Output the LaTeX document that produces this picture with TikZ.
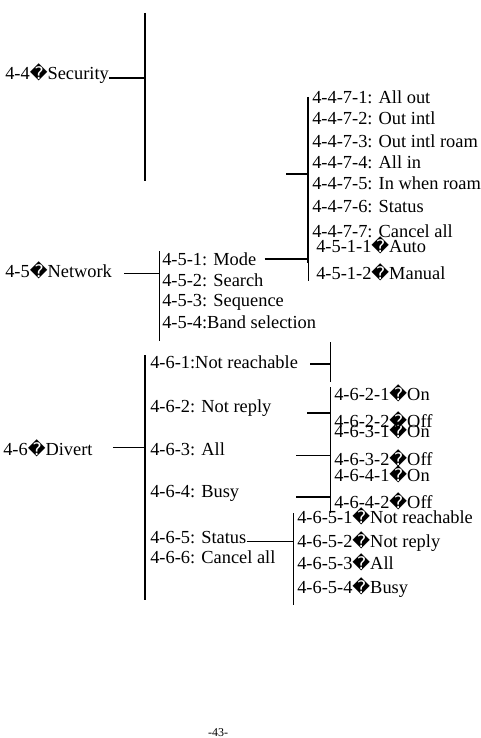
\documentclass[tikz,border=0pt]{standalone}
\usepackage{fontspec}
\setmainfont{Liberation Serif}
\newfontfamily\repfont{DejaVu Sans}
\newcommand{\rep}{{\repfont\fontsize{13}{13}\selectfont\symbol{"FFFD}}}
\usetikzlibrary{positioning}

\begin{document}
\begin{tikzpicture}[x=0.75pt, y=-0.75pt,
        item/.style={anchor=base west, inner sep=0pt, font=\fontsize{13.8}{16}\selectfont},
        pageno/.style={anchor=base, inner sep=0pt, font=\fontsize{9}{10}\selectfont},
        thickline/.style={draw, line width=1.5pt},
        thinline/.style={draw, line width=0.75pt}
        ]
        \useasboundingbox (0,0) rectangle (481,738);

        % Nodes
        \node (sec) [item] at (5,80) {4-4\rep Security};
        \node (out1) [item] at (312,104) {4-4-7-1: All out};
        \node (out2) [item] at (312,125) {4-4-7-2: Out intl};
        \node (out3) [item] at (312,147) {4-4-7-3: Out intl roam};
        \node (in1) [item] at (312,168) {4-4-7-4: All in};
        \node (in2) [item] at (312,190) {4-4-7-5: In when roam};
        \node (barstat) [item] at (312,212) {4-4-7-6: Status};
        \node (barcancel) [item] at (312,237) {4-4-7-7: Cancel all};

        \node (net) [item] at (5,277) {4-5\rep Network};
        \node (mode) [item] at (162,265) {4-5-1: Mode};
        \node (search) [item] at (162,286) {4-5-2: Search};
        \node (seq) [item] at (162,306) {4-5-3: Sequence};
        \node (band) [item] at (162,328) {4-5-4:Band selection};
        \node (auto) [item] at (316,252) {4-5-1-1\rep Auto};
        \node (manual) [item] at (316,279) {4-5-1-2\rep Manual};

        \node (div) [item] at (3,455) {4-6\rep Divert};
        \node (notreach) [item] at (150,368) {4-6-1:Not reachable};
        \node (notreply) [item] at (150,412) {4-6-2: Not reply};
        \node (all) [item] at (150,455) {4-6-3: All};
        \node (busy) [item] at (150,497) {4-6-4: Busy};
        \node (divstat) [item] at (150,543) {4-6-5: Status};
        \node (divcancel) [item] at (150,563) {4-6-6: Cancel all};
        \node (replyon) [item] at (334,400) {4-6-2-1\rep On};
        \node (replyoff) [item] at (334,427) {4-6-2-2\rep Off};
        \node (allon) [item] at (334,437) {4-6-3-1\rep On};
        \node (alloff) [item] at (334,465) {4-6-3-2\rep Off};
        \node (busyon) [item] at (334,481) {4-6-4-1\rep On};
        \node (busyoff) [item] at (334,508) {4-6-4-2\rep Off};
        \node (statreach) [item] at (297,523) {4-6-5-1\rep Not reachable};
        \node (statreply) [item] at (297,547) {4-6-5-2\rep Not reply};
        \node (statall) [item] at (297,569) {4-6-5-3\rep All};
        \node (statbusy) [item] at (297,593) {4-6-5-4\rep Busy};

        \node (page) [pageno] at (218,736) {-43-};

        % Bar ends and joints
        \coordinate (secJ) at (145,78);
        \coordinate (secT) at (145,13);
        \coordinate (secB) at (145,181);
        \coordinate (barT) at (308,97);
        \coordinate (barB) at (308,242);
        \coordinate (barL) at (286,174);
        \coordinate (barJ) at (308,174);
        \coordinate (modeJ) at (308,259);
        \coordinate (modeT) at (308,263);
        \coordinate (modeB) at (308,281);
        \coordinate (netJ) at (159,273);
        \coordinate (netT) at (159,251);
        \coordinate (netB) at (159,341);
        \coordinate (divJ) at (145,447);
        \coordinate (divT) at (145,355);
        \coordinate (divB) at (145,600);
        \coordinate (reachJ) at (330,364);
        \coordinate (reachT) at (330,342);
        \coordinate (reachB) at (330,382);
        \coordinate (onoffT) at (330,387);
        \coordinate (onoffB) at (330,513);
        \coordinate (replyL) at (307,413);
        \coordinate (replyJ) at (330,413);
        \coordinate (allL) at (296,455);
        \coordinate (allJ) at (330,455);
        \coordinate (busyL) at (296,497);
        \coordinate (busyJ) at (330,497);
        \coordinate (statJ) at (293,541);
        \coordinate (statT) at (293,513);
        \coordinate (statB) at (293,605);

        % Lines
        \draw [thickline] (sec.east |- secJ) -- (secJ);
        \draw [thickline] (secT) -- (secB);
        \draw [thickline] (barT) -- (barB);
        \draw [thickline] (barL) -- (barJ);
        \draw [thinline, shorten <=9pt] (net.east |- netJ) -- (netJ);
        \draw [thinline] (netT) -- (netB);
        \draw [thickline, shorten <=6pt] (mode.east |- modeJ) -- (modeJ);
        \draw [thickline] (barB) -- (modeT);
        \draw [thinline] (modeT) -- (modeB);
        \draw [thinline, shorten <=15pt] (div.east |- divJ) -- (divJ);
        \draw [thickline] (divT) -- (divB);
        \draw [thickline, shorten <=9pt] (notreach.east |- reachJ) -- (reachJ);
        \draw [thinline] (reachT) -- (reachB);
        \draw [thinline] (onoffT) -- (onoffB);
        \draw [thickline] (replyL) -- (replyJ);
        \draw [thinline] (allL) -- (allJ);
        \draw [thickline] (busyL) -- (busyJ);
        \draw [thinline] (divstat.east |- statJ) -- (statJ);
        \draw [thinline] (statT) -- (statB);

    \end{tikzpicture}
\end{document}
